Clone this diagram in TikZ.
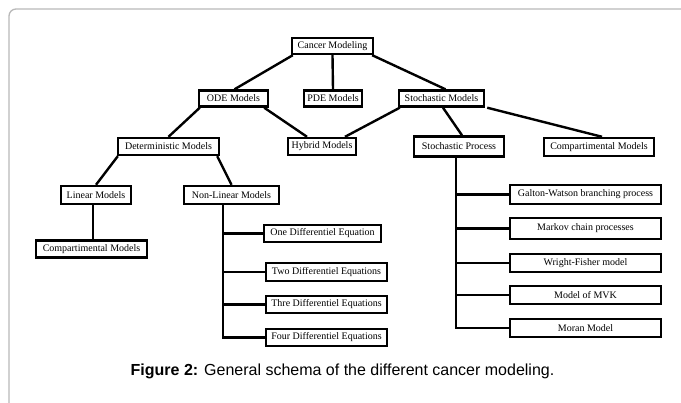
\documentclass[tikz,border=0pt]{standalone}
\usepackage{fontspec}
\setmainfont{Liberation Serif}
\newfontfamily\capfont{Liberation Sans}
\usepackage{tikz}

\tikzset{
  box/.style={draw=black, line width=2.4pt, inner sep=1pt, minimum height=16pt,
    font=\fontsize{10}{12}\selectfont},
  link/.style={line width=2.4pt, black},
}

\begin{document}
\begin{tikzpicture}[x=1pt, y=-1pt]
    \useasboundingbox (0,0) rectangle (681,403);
    % frame of the figure
    \draw[black!28, line width=1.3pt, rounded corners=7pt] (9,403) -- (9,9) -- (681,9);

    % top levels
    \node[box, minimum width=81pt] (cancer) at (332.5,46) {Cancer Modeling};
    \node[box, minimum width=69pt] (ode) at (233.5,98.5) {ODE Models};
    \node[box, minimum width=58pt] (pde) at (333,98.5) {PDE Models};
    \node[box, minimum width=85pt] (stochm) at (441.5,98.5) {Stochastic Models};

    \node[box, minimum width=101pt, minimum height=17pt] (determ) at (168.5,146.5) {Deterministic Models};
    \node[box, minimum width=68pt, minimum height=17pt] (hybrid) at (322,146.5) {Hybrid Models};
    \node[box, minimum width=90pt, minimum height=20pt] (stochp) at (459,146.5) {Stochastic Process};
    \node[box, minimum width=110pt, minimum height=18pt] (compr) at (599,147) {Compartimental Models};

    \node[box, minimum width=70pt, minimum height=18pt] (linear) at (96,195) {Linear Models};
    \node[box, minimum width=95pt, minimum height=18pt] (nonlin) at (231.5,195) {Non-Linear Models};
    \node[box, minimum width=111pt, minimum height=17pt] (compl) at (91.5,249) {Compartimental Models};

    % differential equations
    \node[box, minimum width=117pt, minimum height=17pt] (one) at (322.5,233.5) {One Differentiel Equation};
    \node[box, minimum width=121pt, minimum height=18pt] (two) at (326.5,272) {Two Differentiel Equations};
    \node[box, minimum width=121pt, minimum height=17pt] (three) at (326.5,304.5) {Thre Differentiel Equations};
    \node[box, minimum width=121pt, minimum height=17pt] (four) at (326.5,337.5) {Four Differentiel Equations};

    % stochastic processes
    \node[box, minimum width=151pt, minimum height=19pt] (galton) at (585.5,194.5) {Galton-Watson branching process};
    \node[box, minimum width=151pt, minimum height=21pt] (markov) at (585.5,228.5) {Markov chain processes};
    \node[box, minimum width=151pt, minimum height=18pt] (wright) at (585.5,263) {Wright-Fisher model};
    \node[box, minimum width=151pt, minimum height=18pt] (mvk) at (585.5,295) {Model of MVK};
    \node[box, minimum width=151pt, minimum height=18pt] (moran) at (585.5,328) {Moran Model};

    % links
    \draw[link] ([xshift=2pt]cancer.south west) -- ([xshift=1pt]ode.north);
    \draw[link] (cancer.south) -- (pde.north);
    \draw[link] ([xshift=-2pt]cancer.south east) -- ([xshift=4pt]stochm.north);
    \draw[link] ([xshift=2pt]ode.south west) -- (determ.north);
    \draw[link] ([xshift=-5pt]ode.south east) -- ([xshift=-15pt]hybrid.north);
    \draw[link] ([xshift=2pt]stochm.south west) -- ([xshift=23pt]hybrid.north);
    \draw[link] ([xshift=1.5pt]stochm.south) -- ([xshift=3pt]stochp.north);
    \draw[link] ([xshift=2pt]stochm.south east) -- ([xshift=3pt]compr.north);
    \draw[link] ([xshift=1pt]determ.south west) -- (linear.north);
    \draw[link] ([xshift=-3pt]determ.south east) -- (nonlin.north);
    \draw[link] ([xshift=-3pt]linear.south) -- ([xshift=1.5pt]compl.north);

    \coordinate (trunkA) at (223,0);
    \draw[link] (nonlin.south -| trunkA) |- (four.west);
    \foreach \n in {one,two,three}
      \draw[link] (trunkA |- \n.west) -- (\n.west);

    \coordinate (trunkB) at (456,0);
    \draw[link] (stochp.south -| trunkB) |- (moran.west);
    \foreach \n in {galton,markov,wright,mvk}
      \draw[link] (trunkB |- \n.west) -- (\n.west);

    % caption
    \node[font=\capfont\fontsize{16}{18}\selectfont] (caption) at (342.5,371)
      {\textbf{Figure 2:} General schema of the different cancer modeling.};
\end{tikzpicture}
\end{document}
